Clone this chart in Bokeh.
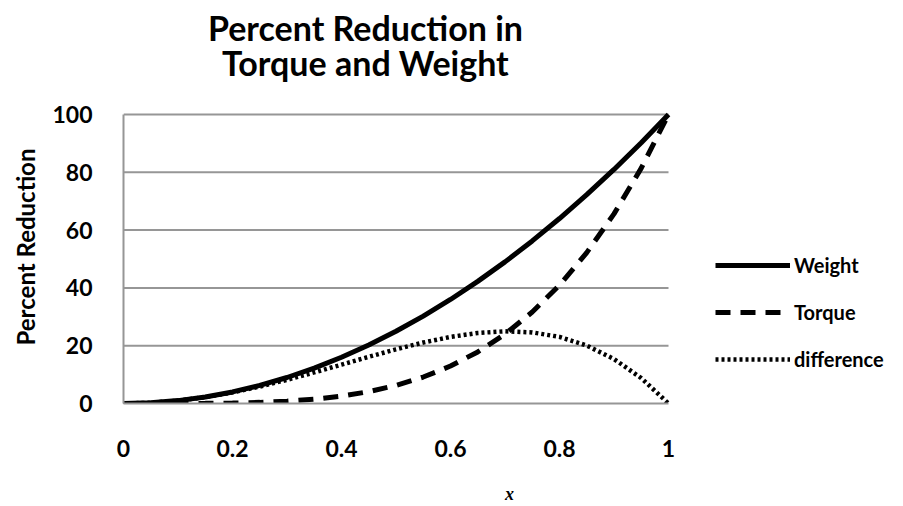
from bokeh.plotting import figure
from bokeh.models import Range1d, FixedTicker, Legend, LegendItem, Label, Title
from bokeh.embed import file_html
from bokeh.resources import INLINE

# ---- data ----
x_vals = [0, 0.05, 0.1, 0.15, 0.2, 0.25, 0.3, 0.35, 0.4, 0.45, 0.5,
          0.55, 0.6, 0.65, 0.7, 0.75, 0.8, 0.85, 0.9, 0.95, 1.0]
weight = [0, 0.25, 1, 2.25, 4, 6.25, 9, 12.25, 16, 20.25, 25,
          30.25, 36, 42.25, 49, 56.25, 64, 72.25, 81, 90.25, 100]
torque = [0, 0.0, 0.01, 0.05, 0.16, 0.39, 0.81, 1.5, 2.56, 4.1, 6.25,
          9.15, 12.96, 17.85, 24.01, 31.64, 40.96, 52.2, 65.61, 81.45, 100]
difference = [0, 0.25, 0.99, 2.2, 3.84, 5.86, 8.19, 10.75, 13.44, 16.15, 18.75,
              21.1, 23.04, 24.4, 24.99, 24.61, 23.04, 20.05, 15.39, 8.8, 0]

x_ticks = [0, 0.2, 0.4, 0.6, 0.8, 1]
x_tick_labels = ["0", "0.2", "0.4", "0.6", "0.8", "1"]
y_ticks = [0, 20, 40, 60, 80, 100]
series_names = ["Weight", "Torque", "difference"]
title_lines = ["Percent Reduction in", "Torque and Weight"]
y_title = "Percent Reduction"
x_title = "x"

FONT = "Lato"
GRID = "#969696"

# The frame also covers the title area (above) and the legend area (right):
# data part is 545 px wide (x 0..1) and 289 px high (y 0..100).
X_END = 772 / 545
Y_END = 100 * 403 / 289

p = figure(width=903, height=506, output_backend="svg", toolbar_location=None,
           x_range=Range1d(0, X_END), y_range=Range1d(0, Y_END),
           min_border_left=123, min_border_right=8,
           min_border_top=0, min_border_bottom=103)
p.title = None
p.outline_line_color = None
p.background_fill_color = "white"
p.border_fill_color = "white"

# two-line title, centred above the plot area
for txt, ty in zip(title_lines, [130.2, 117.9]):
    p.add_layout(Label(x=0.444, y=ty, text=txt, text_align="center",
                       text_baseline="middle", text_font=FONT,
                       text_font_style="bold", text_font_size="34px",
                       text_color="black"))

p.xaxis.ticker = FixedTicker(ticks=x_ticks)
p.xaxis.major_label_overrides = {str(t): l for t, l in zip(x_ticks, x_tick_labels)}
p.xaxis.bounds = (0, 1)
p.yaxis.ticker = FixedTicker(ticks=y_ticks)
p.yaxis.bounds = (0, 100)
for ax in (p.xaxis, p.yaxis):
    ax.major_tick_line_color = None
    ax.minor_tick_line_color = None
    ax.axis_line_color = GRID
    ax.axis_line_width = 2
    ax.major_label_text_font = FONT
    ax.major_label_text_font_style = "bold"
    ax.major_label_text_font_size = "23px"
    ax.major_label_text_color = "black"
p.xaxis.major_label_standoff = 30
p.yaxis.major_label_standoff = 25

# y-axis title: centred on the 0..100 part of the axis
p.add_layout(Title(text=y_title, align="left", offset=58, standoff=16,
                   vertical_align="top",
                   text_font=FONT, text_font_style="bold",
                   text_font_size="24px", text_color="black"), "left")

p.xaxis.axis_label = x_title
p.xaxis.axis_label_text_font = "Liberation Serif"
p.xaxis.axis_label_text_font_style = "bold italic"
p.xaxis.axis_label_text_font_size = "18px"
p.xaxis.axis_label_text_color = "black"
p.xaxis.axis_label_standoff = 24

# horizontal gridlines only across the data part
p.xgrid.grid_line_color = None
p.ygrid.grid_line_color = None
grid_y = y_ticks[1:]
p.segment(x0=[x_ticks[0]] * len(grid_y), y0=grid_y,
          x1=[x_ticks[-1]] * len(grid_y), y1=grid_y,
          line_color=GRID, line_width=2)

r_w = p.line(x_vals, weight, line_color="black", line_width=5)
r_t = p.line(x_vals, torque, line_color="black", line_width=5,
             line_dash="15 10", line_cap="butt")
r_d = p.line(x_vals, difference, line_color="black", line_width=4.5,
             line_dash="3 3")

legend = Legend(items=[LegendItem(label=series_names[0], renderers=[r_w]),
                       LegendItem(label=series_names[1], renderers=[r_t]),
                       LegendItem(label=series_names[2], renderers=[r_d])],
                location=(592, 32), padding=0, margin=0, spacing=23,
                glyph_width=75, glyph_height=20, label_height=20,
                label_standoff=4, label_text_font=FONT,
                label_text_font_style="bold", label_text_font_size="20px",
                label_text_color="black", border_line_color=None,
                background_fill_alpha=0)
p.add_layout(legend, "center")

open("out.html", "w").write(file_html(p, INLINE))
